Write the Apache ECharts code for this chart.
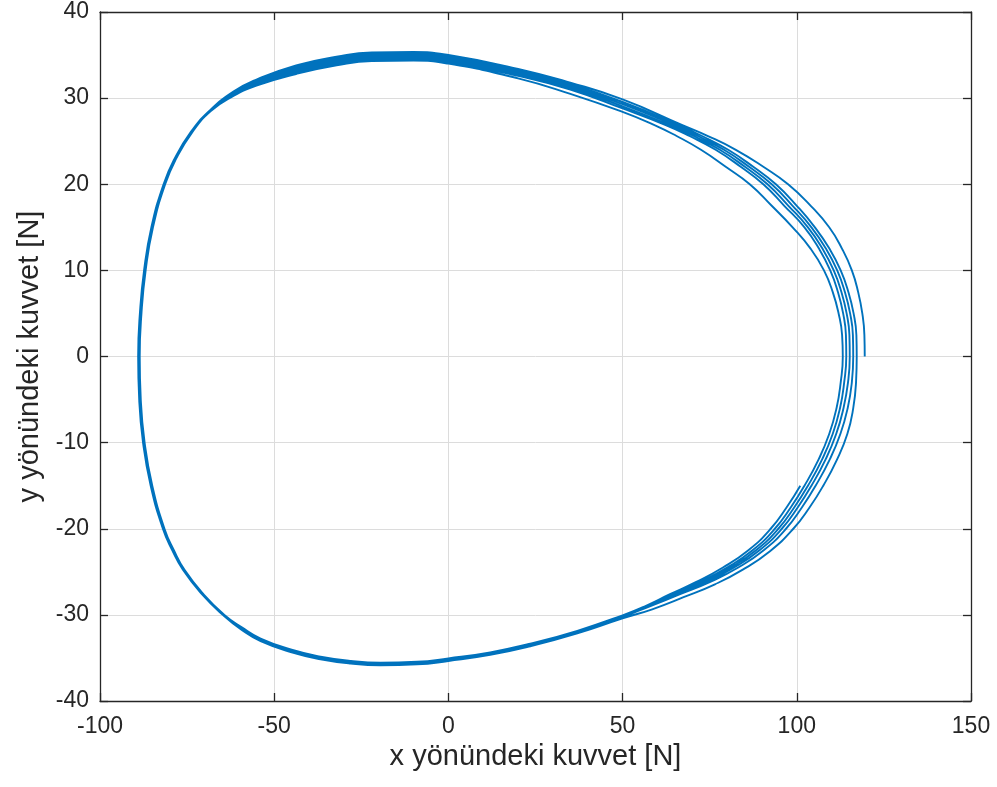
<!DOCTYPE html>
<html>
<head>
<meta charset="utf-8">
<script src="https://cdn.jsdelivr.net/npm/echarts@6/dist/echarts.min.js"></script>
<style>html,body{margin:0;padding:0;background:#fff}#c{width:997px;height:787px}</style>
</head>
<body>
<div id="c"></div>
<script>
// Axis settings / tick labels
const xTicks = [-100, -50, 0, 50, 100, 150];
const yTicks = [-40, -30, -20, -10, 0, 10, 20, 30, 40];
const xTitle = 'x yönündeki kuvvet [N]';
const yTitle = 'y yönündeki kuvvet [N]';

// Trajectory, loop by loop: [x, y] in N
const loop1 = [[119.5,0],[119.4,2.5],[118.8,5],[117.6,7.5],[115.8,10],[113,12.5],[109.3,15],[104,17.5],[97.5,20],[90.5,22],[82.5,24],[74.5,25.6],[67,26.9],[50,29.85],
  [35,31.8],[20,33.4],[0,35.0],[-10,35.35],[-22,35.3],[-32.1,34.8],[-43.7,33.8],[-55.1,32.15],[-61.7,30.75],
  [-68.65,28.5],[-74.05,26],[-78.55,23],[-81.75,20],[-85.25,15],[-87.35,10],[-88.55,5],[-89.05,0],[-88.75,-5],[-87.65,-10],[-85.45,-15],[-81.95,-20],[-79.25,-22.5],[-76.15,-24.8],[-70.75,-27.6],[-64.75,-30],
  [-59.3,-31.75],[-53.9,-33.05],[-45,-34.35],[-36.7,-35.15],[-28,-35.65],[-19.5,-35.85],[-9,-35.75],[0,-35.35],[12,-34.65],[23.5,-33.65],[37,-32.15],[50,-30.4],
  [58.5,-29.35],[67.5,-27.95],[76.5,-26.45],[84.5,-24.75],[92.3,-22.6],[99,-20],[103.7,-17.5],[107.6,-15],[111.5,-12],[114.5,-9],[116.2,-6],[117,-3],[117.2,0]];
const loop2 = [[117.2,0],[117.1,2.5],[116.3,5],[114.8,7.5],[112.6,10],[109.4,12.5],[105.2,15],[100,17.5],[94,20],[87.6,22],[80.3,24],[72.8,25.6],[65.8,26.9],[50,29.55],
  [35,31.6],[20,33.2],[0,34.8],[-10,35.15],[-22,35.1],[-32.1,34.6],[-43.7,33.6],[-55.1,32.0],[-61.7,30.65],
  [-68.5,28.5],[-73.9,26],[-78.4,23],[-81.6,20],[-85.1,15],[-87.2,10],[-88.4,5],[-88.9,0],[-88.6,-5],[-87.5,-10],[-85.3,-15],[-81.8,-20],[-79.1,-22.5],[-76,-24.8],[-70.6,-27.6],[-64.6,-30],
  [-59.3,-31.65],[-53.9,-32.95],[-45,-34.25],[-36.7,-35.05],[-28,-35.55],[-19.5,-35.75],[-9,-35.65],[0,-35.25],[12,-34.55],[23.5,-33.55],[37,-32.05],[50,-30.25],
  [57.8,-29],[66.5,-27.6],[75,-26.2],[83.2,-24.5],[90.5,-22.5],[96.9,-20],[101.5,-17.5],[105.4,-15],[109.4,-12],[112.5,-9],[114.6,-6],[115.8,-3],[116.2,0]];
const loop3 = [[116.2,0],[116.1,2.5],[115.3,5],[113.8,7.5],[111.6,10],[108.4,12.5],[104.2,15],[98.8,17.5],[92.8,20],[86.4,22],[79.1,24],[71.6,25.6],[64.6,26.9],[50,29.3],
  [35,31.4],[20,33.0],[0,34.6],[-10,34.95],[-22,34.9],[-32.1,34.4],[-43.7,33.4],[-55.1,31.85],[-61.7,30.55],
  [-68.4,28.5],[-73.8,26],[-78.3,23],[-81.5,20],[-85,15],[-87.1,10],[-88.3,5],[-88.8,0],[-88.5,-5],[-87.4,-10],[-85.2,-15],[-81.7,-20],[-79,-22.5],[-75.9,-24.8],[-70.5,-27.6],[-64.5,-30],
  [-59.3,-31.6],[-53.9,-32.9],[-45,-34.2],[-36.7,-35],[-28,-35.5],[-19.5,-35.7],[-9,-35.6],[0,-35.2],[12,-34.5],[23.5,-33.5],[37,-32],[50,-30.2],
  [57.4,-29],[65.8,-27.6],[74,-26.2],[82,-24.5],[89.3,-22.5],[95.7,-20],[100.3,-17.5],[104.2,-15],[108.2,-12],[111.3,-9],[113.4,-6],[114.7,-3],[115.2,0]];
const loop4 = [[115.2,0],[115.1,2.5],[114.3,5],[112.8,7.5],[110.6,10],[107.4,12.5],[103.2,15],[97.6,17.5],[91.6,20],[85.2,22],[77.9,24],[70.4,25.6],[63.4,26.9],[50,29.05],
  [35,31.2],[20,32.8],[0,34.4],[-10,34.75],[-22,34.7],[-32.1,34.2],[-43.7,33.2],[-55.1,31.75],[-61.7,30.45],
  [-68.3,28.5],[-73.7,26],[-78.2,23],[-81.4,20],[-84.9,15],[-87,10],[-88.2,5],[-88.7,0],[-88.4,-5],[-87.3,-10],[-85.1,-15],[-81.6,-20],[-78.9,-22.5],[-75.8,-24.8],[-70.4,-27.6],[-64.4,-30],
  [-59.3,-31.55],[-53.9,-32.85],[-45,-34.15],[-36.7,-34.95],[-28,-35.45],[-19.5,-35.65],[-9,-35.55],[0,-35.15],[12,-34.45],[23.5,-33.45],[37,-31.95],[50,-30.15],
  [57,-29],[65,-27.6],[73,-26.2],[81,-24.5],[88.3,-22.5],[94.7,-20],[99.3,-17.5],[103.2,-15],[107.2,-12],[110.3,-9],[112.4,-6],[113.6,-3],[114.2,0]];
const loop5 = [[114.2,0],[114.1,2.5],[113.3,5],[111.8,7.5],[109.6,10],[106.4,12.5],[102.2,15],[96.4,17.5],[90.4,20],[84,22],[76.7,24],[69.2,25.6],[62.2,26.9],[50,28.8],
  [35,31.0],[20,32.6],[0,34.2],[-10,34.55],[-22,34.5],[-32.1,34.0],[-43.7,33.0],[-55.1,31.6],[-61.7,30.35],
  [-68.25,28.5],[-73.65,26],[-78.15,23],[-81.35,20],[-84.85,15],[-86.95,10],[-88.15,5],[-88.65,0],[-88.35,-5],[-87.25,-10],[-85.05,-15],[-81.55,-20],[-78.85,-22.5],[-75.75,-24.8],[-70.35,-27.6],[-64.35,-30],
  [-59.3,-31.5],[-53.9,-32.8],[-45,-34.1],[-36.7,-34.9],[-28,-35.4],[-19.5,-35.6],[-9,-35.5],[0,-35.1],[12,-34.4],[23.5,-33.4],[37,-31.9],[50,-30.1],
  [56.7,-29],[64.3,-27.6],[72,-26.2],[80,-24.5],[87.3,-22.5],[93.7,-20],[98.3,-17.5],[102.2,-15],[106.2,-12],[109.3,-9],[111.4,-6],[112.6,-3],[113.2,0]];
const loop6 = [[113.2,0],[113.0,2.5],[112.0,5],[110.3,7.5],[107.8,10],[104.0,12.5],[98.8,15],[92.8,17.5],[86.5,20],[79.7,22],[72.5,24],[65.5,25.6],[59,26.9],[50,28.4],
  [35,30.5],[20,32.3],[0,34.0],[-10,34.35],[-22,34.3],[-32.1,33.8],[-43.7,32.8],[-55.1,31.45],[-61.7,30.25],
  [-68.2,28.5],[-73.6,26],[-78.1,23],[-81.3,20],[-84.8,15],[-86.9,10],[-88.1,5],[-88.6,0],[-88.3,-5],[-87.2,-10],[-85,-15],[-81.5,-20],[-78.8,-22.5],[-75.7,-24.8],[-70.3,-27.6],[-64.3,-30],
  [-59.3,-31.45],[-53.9,-32.75],[-45,-34.05],[-36.7,-34.85],[-28,-35.35],[-19.5,-35.55],[-9,-35.45],[0,-35.05],[12,-34.35],[23.5,-33.35],[37,-31.85],[50,-30.05],
  [56.4,-29],[63.6,-27.6],[71,-26.2],[78.8,-24.5],[86.1,-22.5],[92.5,-20],[97.1,-17.5],[101,-15]];

const loops = [loop1, loop2, loop3, loop4, loop5, loop6];
const trajectory = [];
loops.forEach((l, i) => { (i === 0 ? l : l.slice(1)).forEach(p => trajectory.push(p)); });

const FONT = 'Liberation Sans';
const AX = '#262626';
const chart = echarts.init(document.getElementById('c'), null, {renderer: 'canvas'});

function xAx(pos, main) {
  return {
    type: 'value', position: pos, min: xTicks[0], max: xTicks[xTicks.length - 1], interval: 50,
    name: main ? xTitle : '', nameLocation: 'middle', nameGap: 39,
    nameTextStyle: {fontFamily: FONT, fontSize: 29, color: AX},
    axisLine: {show: true, onZero: false, lineStyle: {color: AX, width: 1.3}},
    axisTick: {show: true, inside: true, length: 8, lineStyle: {color: AX, width: 1.3}},
    axisLabel: {show: main, fontFamily: FONT, fontSize: 23, color: AX, margin: 14},
    splitLine: {show: main, lineStyle: {color: '#dcdcdc', width: 1}}
  };
}
function yAx(pos, main) {
  return {
    type: 'value', position: pos, min: yTicks[0], max: yTicks[yTicks.length - 1], interval: 10,
    name: main ? yTitle : '', nameLocation: 'middle', nameGap: 45, nameRotate: 90,
    nameTextStyle: {fontFamily: FONT, fontSize: 29, color: AX},
    axisLine: {show: true, onZero: false, lineStyle: {color: AX, width: 1.3}},
    axisTick: {show: true, inside: true, length: 8, lineStyle: {color: AX, width: 1.3}},
    axisLabel: {show: main, fontFamily: FONT, fontSize: 23, color: AX, margin: 11},
    splitLine: {show: main, lineStyle: {color: '#dcdcdc', width: 1}}
  };
}

chart.setOption({
  animation: false,
  backgroundColor: '#ffffff',
  grid: {left: 100, right: 26, top: 12, bottom: 86, containLabel: false, outerBoundsMode: 'none'},
  xAxis: [xAx('bottom', true), xAx('top', false)],
  yAxis: [yAx('left', true), yAx('right', false)],
  series: [{
    type: 'line', xAxisIndex: 0, yAxisIndex: 0,
    data: trajectory, showSymbol: false, smooth: 0.5,
    lineStyle: {color: '#0072BD', width: 1.9},
    clip: true
  }]
});
</script>
</body>
</html>
